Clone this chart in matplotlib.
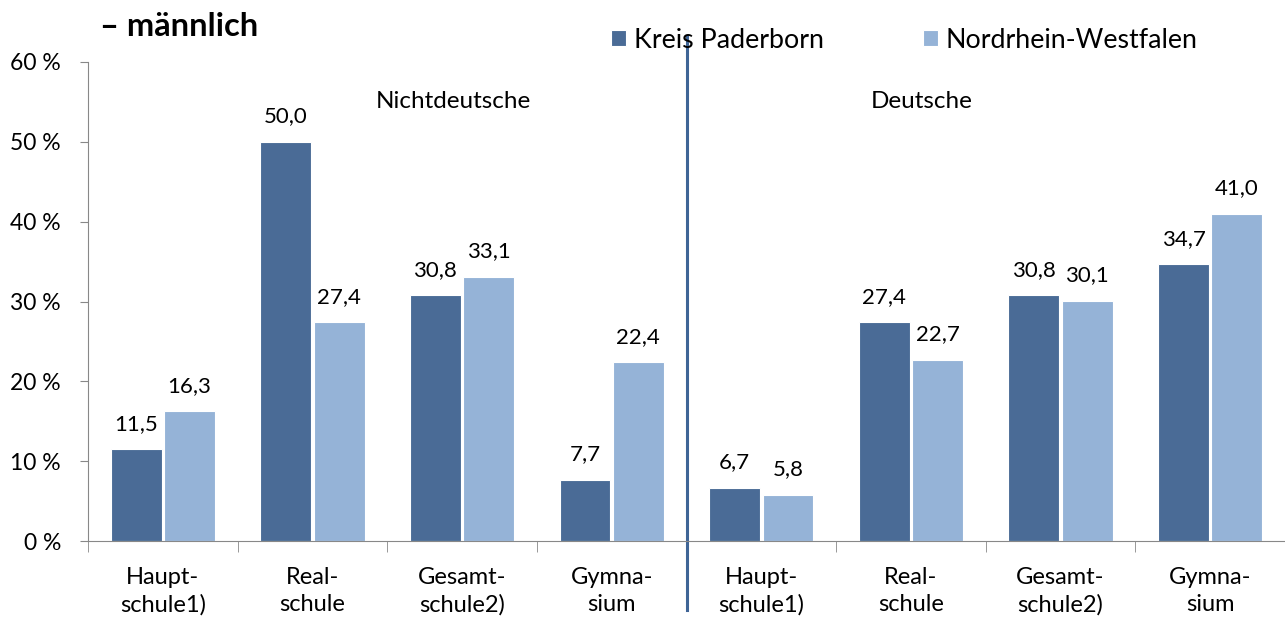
import matplotlib.pyplot as plt
import numpy as np

plt.rcParams["font.family"] = ["Lato", "DejaVu Sans"]

categories = ["Haupt-\nschule1)", "Real-\nschule", "Gesamt-\nschule2)", "Gymna-\nsium",
              "Haupt-\nschule1)", "Real-\nschule", "Gesamt-\nschule2)", "Gymna-\nsium"]
kreis = [11.5, 50.0, 30.8, 7.7, 6.7, 27.4, 30.8, 34.7]
nrw = [16.3, 27.4, 33.1, 22.4, 5.8, 22.7, 30.1, 41.0]
groups = ["Nichtdeutsche", "Deutsche"]

dark = "#4A6B96"
light = "#95B3D7"

fig = plt.figure(figsize=(12.85, 6.19), dpi=100)
ax = fig.add_axes([88 / 1285, 1 - 541 / 619, 1197 / 1285, (541 - 62) / 619])

x = np.arange(len(categories))
w = 0.34
b1 = ax.bar(x - 0.178, kreis, w, color=dark, edgecolor="white", linewidth=0.8, label="Kreis Paderborn")
b2 = ax.bar(x + 0.178, nrw, w, color=light, edgecolor="white", linewidth=0.8, label="Nordrhein-Westfalen")

for bars, vals in [(b1, kreis), (b2, nrw)]:
    for r, v in zip(bars, vals):
        ax.annotate(("%.1f" % v).replace(".", ","), (r.get_x() + r.get_width() / 2, v),
                    xytext=(0, 11), textcoords="offset points", ha="center", va="bottom",
                    fontsize=16)

ax.set_xlim(-0.5, 7.5)
ax.set_ylim(0, 60)
ax.set_yticks(range(0, 61, 10))
ax.set_yticklabels(["%d %%" % t for t in range(0, 61, 10)], fontsize=16.5)
ax.set_xticks(x)
ax.set_xticklabels(categories, fontsize=17, linespacing=1.35)
ax.tick_params(axis="x", length=0, pad=19)
ax.set_xticks(np.arange(-0.5, 8, 1), minor=True)
ax.tick_params(axis="x", which="minor", length=8, color="#888888")
ax.tick_params(axis="y", length=6, color="#888888", pad=13.5)

for s in ["top", "right"]:
    ax.spines[s].set_visible(False)
ax.spines["left"].set_color("#888888")
ax.spines["bottom"].set_color("#888888")

# separator between groups
ax.plot([3.5, 3.5], [1.055, -0.145], transform=ax.get_xaxis_transform(),
        color="#3F6596", linewidth=2.2, clip_on=False)

ax.text(1.94, 55, groups[0], ha="center", va="center", fontsize=17.5)
ax.text(5.07, 55, groups[1], ha="center", va="center", fontsize=17.5)

fig.text(100 / 1285, 1 - 26 / 619, "– männlich", fontsize=23.5, fontweight="bold",
         ha="left", va="center")

ax.legend(loc="center left", bbox_to_anchor=(611 / 1285, 1 - 40 / 619), bbox_transform=fig.transFigure,
          ncol=2, frameon=False, fontsize=19.25, handlelength=0.56, handleheight=0.56,
          columnspacing=3.7, handletextpad=0.3, borderpad=0, borderaxespad=0)

fig.savefig("out.png", dpi=100)
